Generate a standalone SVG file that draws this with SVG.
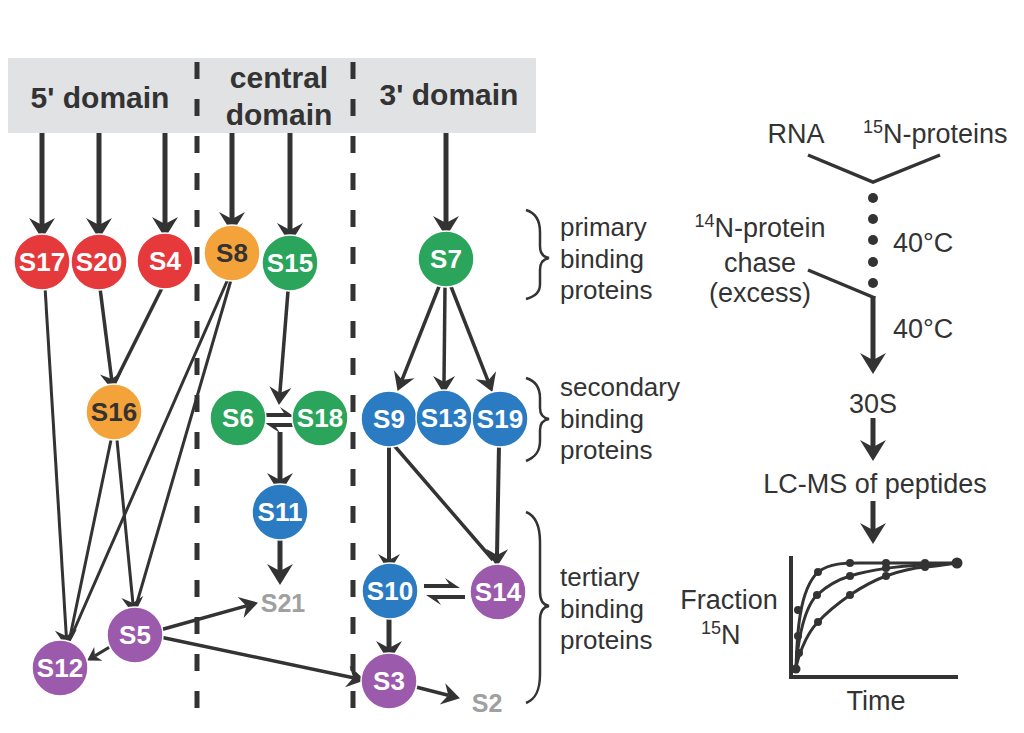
<svg xmlns="http://www.w3.org/2000/svg" width="1024" height="733" viewBox="0 0 1024 733">
<defs>
<style>
text{font-family:"Liberation Sans",Arial,Helvetica,sans-serif}
.hdr{font-size:30px;font-weight:bold;fill:#333;text-anchor:middle}
.nl{font-size:26px;font-weight:bold;fill:#fff;text-anchor:middle}
.dk{fill:#333}
.gl{font-size:25px;font-weight:bold;fill:#a0a0a0;text-anchor:middle}
.tx{font-size:26px;fill:#333}
.tr{font-size:27px;fill:#333}
.mid{text-anchor:middle}
.c{stroke:#fff;stroke-width:1.5}
.red{fill:#e5393c}
.org{fill:#f3a33a}
.grn{fill:#2ba55b}
.blu{fill:#2a7bc2}
.pur{fill:#9b5aac}
.ln{stroke:#333;fill:none}
.w5{stroke-width:5}
.w4{stroke-width:4}
.w35{stroke-width:3.5}
.w3{stroke-width:3}
.mb{marker-end:url(#mb)}
.mm{marker-end:url(#mm)}
.ms{marker-end:url(#ms)}
.mh{marker-end:url(#mh)}
.dash{stroke:#333;stroke-width:5;stroke-dasharray:17 20;fill:none}
.brace{stroke:#333;stroke-width:2.5;fill:none}
.dot{fill:#333}
</style>
<marker id="mb" markerUnits="userSpaceOnUse" orient="auto" markerWidth="40" markerHeight="40" viewBox="-20 -20 40 40" refX="0" refY="0"><path d="M14,0 L-7,-13 L0,0 L-7,13 Z" fill="#333"/></marker>
<marker id="mm" markerUnits="userSpaceOnUse" orient="auto" markerWidth="40" markerHeight="40" viewBox="-20 -20 40 40" refX="0" refY="0"><path d="M12,0 L-6,-11 L0,0 L-6,11 Z" fill="#333"/></marker>
<marker id="ms" markerUnits="userSpaceOnUse" orient="auto" markerWidth="40" markerHeight="40" viewBox="-20 -20 40 40" refX="0" refY="0"><path d="M9,0 L-4,-8 L0,0 L-4,8 Z" fill="#333"/></marker>
<marker id="mh" markerUnits="userSpaceOnUse" orient="auto" markerWidth="40" markerHeight="40" viewBox="-20 -20 40 40" refX="0" refY="0"><path d="M-3,2 L9,2 L-6,-8 L-2,-2 L-3,-2 Z" fill="#333"/></marker>
</defs>
<rect x="0" y="0" width="1024" height="733" fill="#fff"/>

<g id="header">
<rect x="8" y="58" width="528" height="75" fill="#e1e2e4"/>
<text class="hdr" x="100" y="108">5' domain</text>
<text class="hdr" x="279" y="88">central</text>
<text class="hdr" x="279" y="125">domain</text>
<text class="hdr" x="449" y="105">3' domain</text>
</g>

<g id="dividers">
<line class="dash" x1="197" y1="62" x2="197" y2="718"/>
<line class="dash" x1="353" y1="62" x2="353" y2="718"/>
</g>

<g id="connectors">
<line class="ln w5 mb" x1="42" y1="133" x2="42" y2="225"/>
<line class="ln w5 mb" x1="99" y1="133" x2="99" y2="225"/>
<line class="ln w5 mb" x1="165" y1="133" x2="165" y2="224"/>
<line class="ln w5 mb" x1="232" y1="133" x2="232" y2="219"/>
<line class="ln w5 mb" x1="290" y1="133" x2="290" y2="230"/>
<line class="ln w5 mb" x1="446" y1="133" x2="446" y2="223"/>
<line class="ln w3 mm" x1="45" y1="287" x2="66.3" y2="636"/>
<line class="ln w35 mm" x1="100" y1="288" x2="111.6" y2="379"/>
<line class="ln w35" x1="163" y1="286" x2="116" y2="380"/>
<line class="ln w3" x1="228" y1="279" x2="71" y2="637"/>
<line class="ln w3" x1="231" y1="280" x2="136" y2="606"/>
<line class="ln w3" x1="111" y1="440" x2="70" y2="637"/>
<line class="ln w3 mm" x1="117" y1="440" x2="132.9" y2="603"/>
<line class="ln w3 ms" x1="113" y1="645" x2="94.9" y2="655.9"/>
<line class="ln w35 mm" x1="160" y1="630" x2="246.4" y2="605.9"/>
<line class="ln w35 mm" x1="160" y1="637" x2="353.2" y2="677.7"/>
<line class="ln w35 mm" x1="288" y1="291" x2="279.9" y2="393"/>
<line class="ln w4 mh" x1="263" y1="415" x2="286" y2="415"/>
<line class="ln w4 mh" x1="295" y1="425" x2="274" y2="425"/>
<line class="ln w5 mb" x1="280" y1="432" x2="280" y2="480"/>
<line class="ln w5 mb" x1="280" y1="538" x2="280" y2="571"/>
<line class="ln w35 mm" x1="440" y1="284" x2="402" y2="379.8"/>
<line class="ln w35 mm" x1="445" y1="286" x2="444" y2="382"/>
<line class="ln w35 mm" x1="450" y1="284" x2="488" y2="380.8"/>
<line class="ln w4 mm" x1="389" y1="444" x2="389" y2="560"/>
<line class="ln w35" x1="392" y1="443" x2="493" y2="560"/>
<line class="ln w4 mm" x1="499" y1="445" x2="497" y2="555"/>
<line class="ln w4 mh" x1="424" y1="586" x2="451" y2="586"/>
<line class="ln w4 mh" x1="465" y1="597" x2="435" y2="597"/>
<line class="ln w5 mb" x1="389" y1="612" x2="389" y2="648"/>
<line class="ln w35 mm" x1="412" y1="686" x2="448.3" y2="695.3"/>
</g>

<g id="S17"><circle class="c red" cx="42" cy="262" r="28"/><text class="nl" x="42" y="271">S17</text></g>
<g id="S20"><circle class="c red" cx="99" cy="262" r="28"/><text class="nl" x="99" y="271">S20</text></g>
<g id="S4"><circle class="c red" cx="165" cy="261" r="28"/><text class="nl" x="165" y="270">S4</text></g>
<g id="S8"><circle class="c org" cx="232" cy="253" r="28"/><text class="nl dk" x="232" y="262">S8</text></g>
<g id="S15"><circle class="c grn" cx="290" cy="263" r="28"/><text class="nl" x="290" y="272">S15</text></g>
<g id="S7"><circle class="c grn" cx="446" cy="259" r="28"/><text class="nl" x="446" y="268">S7</text></g>
<g id="S16"><circle class="c org" cx="114" cy="412" r="28"/><text class="nl dk" x="114" y="421">S16</text></g>
<g id="S6"><circle class="c grn" cx="238" cy="418" r="28"/><text class="nl" x="238" y="427">S6</text></g>
<g id="S18"><circle class="c grn" cx="320" cy="418" r="28"/><text class="nl" x="320" y="427">S18</text></g>
<g id="S11"><circle class="c blu" cx="280" cy="512" r="28"/><text class="nl" x="280" y="521">S11</text></g>
<g id="S9"><circle class="c blu" cx="389" cy="419" r="28"/><text class="nl" x="389" y="428">S9</text></g>
<g id="S13"><circle class="c blu" cx="444" cy="418" r="28"/><text class="nl" x="444" y="427">S13</text></g>
<g id="S19"><circle class="c blu" cx="500" cy="419" r="28"/><text class="nl" x="500" y="428">S19</text></g>
<g id="S10"><circle class="c blu" cx="390" cy="591" r="28"/><text class="nl" x="390" y="600">S10</text></g>
<g id="S14"><circle class="c pur" cx="498" cy="592" r="28"/><text class="nl" x="498" y="601">S14</text></g>
<g id="S12"><circle class="c pur" cx="60" cy="668" r="28"/><text class="nl" x="60" y="677">S12</text></g>
<g id="S5"><circle class="c pur" cx="135" cy="635" r="28"/><text class="nl" x="135" y="644">S5</text></g>
<g id="S3"><circle class="c pur" cx="389" cy="681" r="28"/><text class="nl" x="389" y="690">S3</text></g>
<g id="S21"><text class="gl" x="283" y="612">S21</text></g>
<g id="S2"><text class="gl" x="487" y="712">S2</text></g>

<g id="legend">
<path class="brace" d="M526,210 C536,213 540,220 540,232 L540,246 C540,253 543,257 549,258 C543,259 540,263 540,270 L540,284 C540,292 536,296 526,299"/>
<path class="brace" d="M526,378 C536,381 540,388 540,398 L540,408 C540,415 543,418 549,419 C543,420 540,423 540,430 L540,441 C540,451 536,457 526,461"/>
<path class="brace" d="M526,512 C536,516 540,526 540,542 L540,592 C540,600 543,605 549,606 C543,607 540,612 540,620 L540,674 C540,690 536,699 526,703"/>
<text class="tx" x="560" y="236">primary</text>
<text class="tx" x="560" y="268">binding</text>
<text class="tx" x="560" y="299">proteins</text>
<text class="tx" x="560" y="396">secondary</text>
<text class="tx" x="560" y="428">binding</text>
<text class="tx" x="560" y="459">proteins</text>
<text class="tx" x="560" y="586">tertiary</text>
<text class="tx" x="560" y="618">binding</text>
<text class="tx" x="560" y="649">proteins</text>
</g>

<g id="workflow">
<polyline class="ln w35" points="808,155 873,182 940,155"/>
<circle class="dot" cx="873" cy="198" r="5"/>
<circle class="dot" cx="873" cy="219" r="5"/>
<circle class="dot" cx="873" cy="240" r="5"/>
<circle class="dot" cx="873" cy="262" r="5"/>
<circle class="dot" cx="873" cy="283" r="5"/>
<line class="ln w35" x1="808" y1="270" x2="875" y2="298"/>
<line class="ln w5 mb" x1="873" y1="296" x2="873" y2="360"/>
<line class="ln w5 mb" x1="873" y1="418" x2="873" y2="447"/>
<line class="ln w5 mb" x1="873" y1="501" x2="873" y2="530"/>
<text class="tr mid" x="796" y="143">RNA</text>
<text class="tr" x="863" y="143"><tspan font-size="18" dy="-10">15</tspan><tspan dy="10">N-proteins</tspan></text>
<text class="tr mid" x="760" y="237"><tspan font-size="18" dy="-10">14</tspan><tspan dy="10">N-protein</tspan></text>
<text class="tr mid" x="760" y="272">chase</text>
<text class="tr mid" x="760" y="302">(excess)</text>
<text class="tr" x="893" y="252">40°C</text>
<text class="tr" x="893" y="338">40°C</text>
<text class="tr mid" x="873" y="413">30S</text>
<text class="tr mid" x="875" y="493">LC-MS of peptides</text>
</g>

<g id="plot">
<path class="ln w4" d="M791,556 L791,677 L958,677"/>
<path class="ln w3" d="M796,669 C797,635 799,590 818,572 C830,563 845,563 860,563 L957,563"/>
<path class="ln w3" d="M796,669 C797,650 802,610 817,595 C830,583 840,579 850,576 C870,570 900,566 925,565 L957,563"/>
<path class="ln w3" d="M796,669 C797,660 805,635 818,622 C828,611 840,602 850,595 C862,587 875,580 886,576 C900,571 912,568 925,567 C940,566 950,564 957,563"/>
<g class="dot">
<circle cx="796" cy="669" r="4.5"/>
<circle cx="798" cy="610" r="4"/><circle cx="818" cy="572" r="4"/><circle cx="850" cy="563" r="4"/><circle cx="886" cy="563" r="4"/><circle cx="925" cy="563" r="4"/>
<circle cx="798" cy="636" r="4"/><circle cx="817" cy="595" r="4"/><circle cx="850" cy="576" r="4"/><circle cx="886" cy="568" r="4"/><circle cx="925" cy="565" r="4"/>
<circle cx="799" cy="653" r="4"/><circle cx="818" cy="622" r="4"/><circle cx="850" cy="595" r="4"/><circle cx="886" cy="576" r="4"/><circle cx="925" cy="567" r="4"/>
<circle cx="957" cy="563" r="5.5"/>
</g>
<text class="tr mid" x="729" y="609" font-size="28">Fraction</text>
<text class="tr" x="701" y="644"><tspan font-size="18" dy="-10">15</tspan><tspan dy="10">N</tspan></text>
<text class="tr mid" x="876" y="710">Time</text>
</g>
</svg>
